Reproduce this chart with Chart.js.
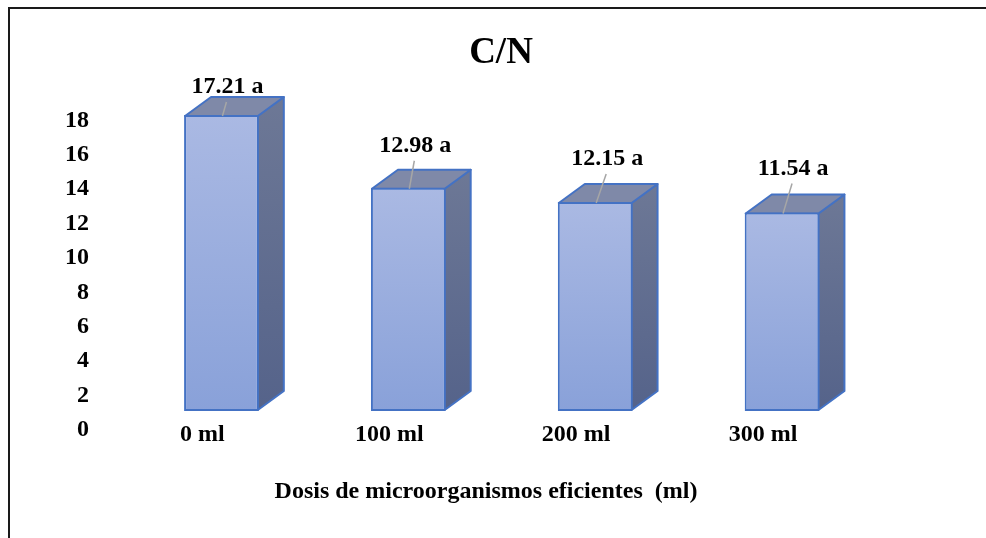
<!DOCTYPE html>
<html>
<head>
<meta charset="utf-8">
<script src="https://cdn.jsdelivr.net/npm/chart.js@4"></script>
<style>
  html, body { margin: 0; padding: 0; background: #ffffff; }
  #wrap { width: 986px; height: 538px; position: relative; }
</style>
</head>
<body>
<div id="wrap"><canvas id="c" width="986" height="538"></canvas></div>
<script>
// C/N ratio by dose of efficient microorganisms
const categories = ['0 ml', '100 ml', '200 ml', '300 ml'];
const cnValues = [17.21, 12.98, 12.15, 11.54];
const groupLetters = ['a', 'a', 'a', 'a'];
const chartTitle = 'C/N';
const axisTitle = 'Dosis de microorganismos eficientes  (ml)';

// callout placement (label centre relative to the top-centre of each front face)
const calloutShift = [[6, -28], [7, -42], [12, -43], [11, -44]];

const FONT = '"Liberation Serif", "Times New Roman", serif';
const EDGE = '#4472C4';
const DX = 26, DY = -19;   // depth of the box extrusion

// white page with the frame around the chart
const frame = {
  id: 'frame',
  beforeDraw(chart) {
    const ctx = chart.ctx;
    ctx.save();
    ctx.fillStyle = '#ffffff';
    ctx.fillRect(0, 0, chart.width, chart.height);
    ctx.strokeStyle = '#1a1a1a';
    ctx.lineWidth = 2;
    ctx.strokeRect(9, 8, 1100, 700);
    ctx.restore();
  }
};

// side and top faces behind each bar's front face
const box3d = {
  id: 'box3d',
  beforeDatasetsDraw(chart) {
    const ctx = chart.ctx;
    chart.getDatasetMeta(0).data.forEach(bar => {
      const { x, y, base, width } = bar.getProps(['x', 'y', 'base', 'width'], true);
      const l = x - width / 2 + 1, r = x + width / 2 - 1, t = y + 1, b = base - 1;
      ctx.save();
      ctx.lineJoin = 'round';
      ctx.strokeStyle = EDGE;
      ctx.lineWidth = 2;
      // right side
      const g = ctx.createLinearGradient(0, t + DY, 0, b);
      g.addColorStop(0, '#6D7896');
      g.addColorStop(1, '#55638A');
      ctx.beginPath();
      ctx.moveTo(r, t);
      ctx.lineTo(r + DX, t + DY);
      ctx.lineTo(r + DX, b + DY);
      ctx.lineTo(r, b);
      ctx.closePath();
      ctx.fillStyle = g;
      ctx.fill();
      ctx.stroke();
      // top
      ctx.beginPath();
      ctx.moveTo(l, t);
      ctx.lineTo(l + DX, t + DY);
      ctx.lineTo(r + DX, t + DY);
      ctx.lineTo(r, t);
      ctx.closePath();
      ctx.fillStyle = '#7F89A8';
      ctx.fill();
      ctx.stroke();
      ctx.restore();
    });
  }
};

// value labels with leader lines
const callouts = {
  id: 'callouts',
  afterDatasetsDraw(chart) {
    const ctx = chart.ctx;
    const vals = chart.data.datasets[0].data;
    chart.getDatasetMeta(0).data.forEach((bar, i) => {
      const [sx, sy] = calloutShift[i];
      const lx = bar.x + sx, ly = bar.y + sy;
      ctx.save();
      ctx.strokeStyle = '#A6A6A6';
      ctx.lineWidth = 1.5;
      ctx.beginPath();
      ctx.moveTo(lx - 1, ly + 15);
      ctx.lineTo(bar.x + 1, bar.y + 1);
      ctx.stroke();
      ctx.font = 'bold 24px ' + FONT;
      ctx.fillStyle = '#000000';
      ctx.textAlign = 'center';
      ctx.textBaseline = 'middle';
      ctx.fillText(vals[i].toFixed(2) + ' ' + groupLetters[i], lx, ly);
      ctx.restore();
    });
  }
};

// chart title and category axis title
const titles = {
  id: 'titles',
  afterDraw(chart) {
    const ctx = chart.ctx;
    ctx.save();
    ctx.fillStyle = '#000000';
    ctx.textAlign = 'center';
    ctx.textBaseline = 'middle';
    ctx.font = 'bold 37px ' + FONT;
    ctx.fillText(chartTitle, 501, 53);
    ctx.font = 'bold 24px ' + FONT;
    ctx.fillText(axisTitle, 486, 492);
    ctx.restore();
  }
};

new Chart(document.getElementById('c'), {
  type: 'bar',
  data: {
    labels: categories,
    datasets: [{
      data: cnValues,
      backgroundColor(c) {
        const chart = c.chart;
        if (!chart.scales || !chart.scales.y || !c.parsed) return '#9AAEDE';
        const ys = chart.scales.y;
        const top = ys.getPixelForValue(c.parsed.y);
        const bot = ys.getPixelForValue(0);
        if (!isFinite(top) || !isFinite(bot) || top === bot) return '#9AAEDE';
        const g = chart.ctx.createLinearGradient(0, top, 0, bot);
        g.addColorStop(0, '#AAB9E3');
        g.addColorStop(1, '#89A1D9');
        return g;
      },
      borderColor: EDGE,
      borderWidth: 2,
      borderSkipped: false,
      barPercentage: 0.4,
      categoryPercentage: 1.0
    }]
  },
  options: {
    responsive: false,
    animation: false,
    devicePixelRatio: 1,
    layout: { padding: { left: 28, right: 110.5, top: 101.4, bottom: 0 } },
    plugins: {
      legend: { display: false },
      tooltip: { enabled: false },
      title: { display: false }
    },
    scales: {
      x: {
        afterFit(s) { s.height = 127; },
        grid: { display: false, drawTicks: false },
        border: { display: false },
        ticks: {
          padding: 9,
          labelOffset: -19,
          maxRotation: 0,
          autoSkip: false,
          color: '#000000',
          font: { family: FONT, size: 24, weight: 'bold' }
        }
      },
      y: {
        min: 0,
        max: 18,
        afterFit(s) { s.width = 100; },
        grid: { display: false, drawTicks: false },
        border: { display: false },
        ticks: {
          stepSize: 2,
          padding: 39,
          labelOffset: 19,
          color: '#000000',
          font: { family: FONT, size: 24, weight: 'bold' }
        }
      }
    }
  },
  plugins: [frame, box3d, callouts, titles]
});
</script>
</body>
</html>
